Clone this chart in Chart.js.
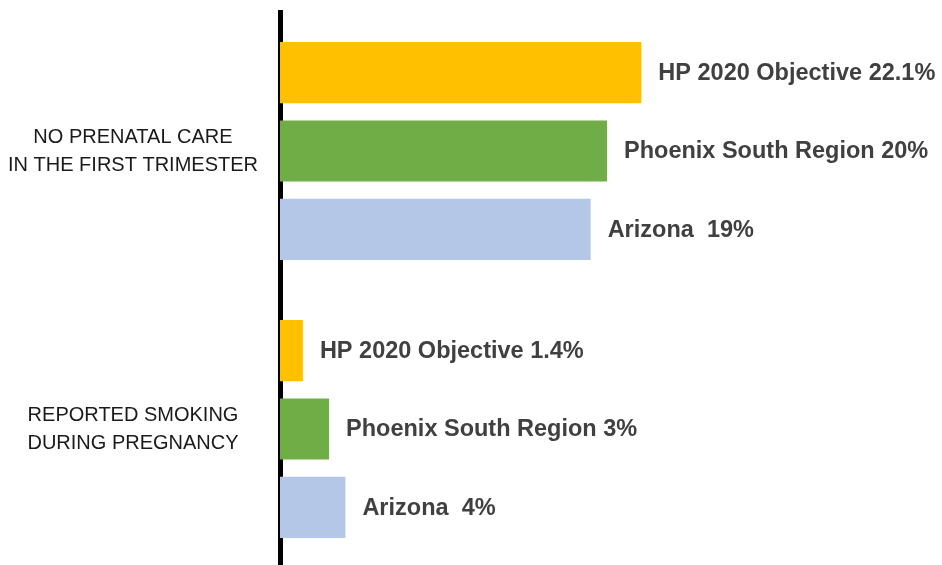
<!DOCTYPE html>
<html>
<head>
<meta charset="utf-8">
<script src="https://cdn.jsdelivr.net/npm/chart.js@4"></script>
<style>
  html, body { margin: 0; padding: 0; background: #fff; overflow: hidden; }
  #wrap { width: 942px; height: 568px; }
</style>
</head>
<body>
<div id="wrap"><canvas id="chartCanvas"></canvas></div>
<script>
// Datos del gráfico
var categorias = [
  ["NO PRENATAL CARE", "IN THE FIRST TRIMESTER"],
  ["REPORTED SMOKING", "DURING PREGNANCY"]
];
var series = ["HP 2020 Objective", "Phoenix South Region", "Arizona"];
var valoresHP = [22.1, 1.4];
var valoresPhoenix = [20, 3];
var valoresArizona = [19, 4];
var etiquetasHP = ["HP 2020 Objective 22.1%", "HP 2020 Objective 1.4%"];
var etiquetasPhoenix = ["Phoenix South Region 20%", "Phoenix South Region 3%"];
var etiquetasArizona = ["Arizona  19%", "Arizona  4%"];

var colores = ["#FFC000", "#70AD47", "#B4C7E7"];

var ctx = document.getElementById("chartCanvas").getContext("2d");

// Etiquetas al final de cada barra
var etiquetasPlugin = {
  id: "etiquetas",
  afterDatasetsDraw: function (chart) {
    var c = chart.ctx;
    c.save();
    c.font = "bold 23.5px 'Liberation Sans', Arial, sans-serif";
    c.fillStyle = "#404040";
    c.textBaseline = "middle";
    c.textAlign = "left";
    chart.data.datasets.forEach(function (ds, i) {
      var meta = chart.getDatasetMeta(i);
      meta.data.forEach(function (bar, j) {
        c.fillText(ds.etiquetas[j], bar.x + 17, bar.y + 1);
      });
    });
    c.restore();
  }
};

var chartConfig = {
  type: "bar",
  data: {
    labels: categorias,
    datasets: [
      { label: series[0], data: valoresHP, etiquetas: etiquetasHP, backgroundColor: colores[0] },
      { label: series[1], data: valoresPhoenix, etiquetas: etiquetasPhoenix, backgroundColor: colores[1] },
      { label: series[2], data: valoresArizona, etiquetas: etiquetasArizona, backgroundColor: colores[2] }
    ]
  },
  options: {
    indexAxis: "y",
    responsive: true,
    maintainAspectRatio: false,
    animation: false,
    categoryPercentage: 0.846,
    barPercentage: 0.78,
    layout: { padding: { top: 12, bottom: 0, left: 0, right: 8 } },
    plugins: {
      legend: { display: false },
      tooltip: { enabled: false }
    },
    scales: {
      x: {
        display: false,
        min: 0,
        max: 40
      },
      y: {
        afterFit: function (scale) {
          scale.width = 280;
          scale.paddingTop = 0;
          scale.paddingBottom = 0;
        },
        grid: { display: false, drawTicks: false },
        border: { display: true, color: "#000", width: 5 },
        ticks: {
          crossAlign: "center",
          padding: 22,
          color: "#1a1a1a",
          font: { family: "'Liberation Sans', Arial, sans-serif", size: 20, lineHeight: 1.4 }
        }
      }
    }
  },
  plugins: [etiquetasPlugin]
};

var myChart = new Chart(ctx, chartConfig);
</script>
</body>
</html>
